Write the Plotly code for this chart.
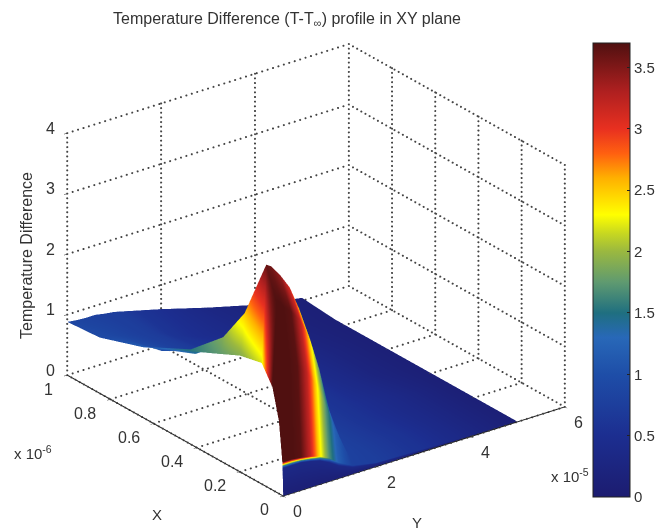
import plotly.graph_objects as go

# Axis values (X and Y in units of the printed multipliers)
x_ticks = [0, 0.2, 0.4, 0.6, 0.8, 1]
y_ticks = [0, 2, 4, 6]
z_ticks = [0, 1, 2, 3, 4]
cbar_ticks = [0, 0.5, 1, 1.5, 2, 2.5, 3, 3.5]

x_grid = [0, 0.003, 0.004, 0.02, 0.05, 0.1, 0.2, 0.3, 0.45, 0.65, 0.85, 1]
y_grid = [0, 0.1, 0.2, 0.4, 0.6, 0.8, 1.0, 1.2, 1.5, 2, 3, 4, 5]

# Temperature difference heights, one row per x_grid value
z_rows = [
    [0, 0, 0, 0, 0, 0, 0, 0, 0, 0, 0, 0, 0],
    [0.45, 0.45, 0.45, 0.45, 0.42, 0.38, 0.3, 0.2, 0.1, 0.04, 0.02, 0.01, 0],
    [0.55, 0.55, 0.55, 0.53, 0.5, 0.45, 0.37, 0.25, 0.13, 0.05, 0.03, 0.01, 0],
    [1.2, 2.15, 2.1, 2.0, 1.85, 1.6, 1.2, 0.75, 0.25, 0.1, 0.06, 0.02, 0],
    [1.7, 3.05, 3.0, 2.85, 2.65, 2.3, 1.75, 1.05, 0.35, 0.13, 0.08, 0.04, 0],
    [2.0, 3.6, 3.55, 3.35, 3.1, 2.7, 2.05, 1.25, 0.4, 0.15, 0.1, 0.05, 0],
    [1.92, 2.6, 2.55, 2.0, 1.85, 1.6, 1.3, 1.0, 0.6, 0.3, 0.18, 0.08, 0],
    [1.75, 2.0, 1.95, 1.75, 1.62, 1.57, 1.5, 1.3, 0.9, 0.45, 0.2, 0.1, 0],
    [1.5, 1.5, 1.4, 1.4, 1.35, 1.3, 1.25, 1.2, 1.1, 0.8, 0.25, 0.1, 0],
    [1.16, 1.14, 1.1, 1.0, 0.95, 0.9, 0.86, 0.82, 0.72, 0.65, 0.3, 0.1, 0],
    [0.92, 0.92, 0.9, 0.86, 0.82, 0.78, 0.74, 0.7, 0.6, 0.45, 0.27, 0.12, 0],
    [0.88, 0.87, 0.86, 0.85, 0.85, 0.82, 0.8, 0.76, 0.7, 0.6, 0.38, 0.18, 0.05],
]

# Colour values, one row per x_grid value
c_rows = [
    [0.1, 0.1, 0.1, 0.1, 0.1, 0.1, 0.1, 0.1, 0.1, 0.1, 0.1, 0.1, 0.05],
    [0.35, 0.35, 0.35, 0.35, 0.35, 0.35, 0.35, 0.35, 0.35, 0.35, 0.3, 0.2, 0.1],
    [3.7, 3.7, 3.7, 3.65, 3.2, 2.4, 1.7, 1.2, 0.8, 0.75, 0.55, 0.3, 0.1],
    [3.7, 3.7, 3.7, 3.65, 3.2, 2.4, 1.7, 1.2, 0.8, 0.75, 0.55, 0.3, 0.1],
    [3.7, 3.7, 3.7, 3.65, 3.2, 2.4, 1.7, 1.2, 0.8, 0.75, 0.55, 0.3, 0.1],
    [2.2, 3.6, 3.55, 3.4, 3.1, 2.5, 1.8, 1.2, 0.8, 0.75, 0.55, 0.3, 0.1],
    [1.92, 2.5, 2.45, 1.9, 1.4, 1.1, 0.9, 0.8, 0.75, 0.7, 0.5, 0.3, 0.1],
    [1.75, 1.9, 1.85, 1.4, 1.05, 0.85, 0.75, 0.7, 0.7, 0.65, 0.5, 0.3, 0.1],
    [1.5, 1.5, 1.4, 1.15, 0.95, 0.8, 0.72, 0.7, 0.65, 0.6, 0.45, 0.25, 0.1],
    [1.16, 1.14, 1.1, 0.98, 0.88, 0.8, 0.74, 0.68, 0.6, 0.55, 0.4, 0.25, 0.1],
    [0.92, 0.92, 0.9, 0.86, 0.82, 0.78, 0.74, 0.7, 0.6, 0.5, 0.35, 0.2, 0.1],
    [0.88, 0.87, 0.85, 0.82, 0.79, 0.76, 0.74, 0.7, 0.6, 0.5, 0.3, 0.2, 0.1],
]

CMAX = 3.7
color_stops = [
    (0, "#1c1c70"), (0.5, "#1c2e90"), (1.0, "#1e4ea8"), (1.3, "#2868b8"),
    (1.5, "#1f6f80"), (1.75, "#5f9a70"), (2.0, "#9ab840"), (2.15, "#c8d820"),
    (2.3, "#ffff00"), (2.6, "#ffb000"), (2.8, "#ff6010"), (3.0, "#e83020"),
    (3.3, "#b02020"), (3.7, "#501010"),
]
colorscale = [[v / CMAX, c] for v, c in color_stops]

xmax, ymax, zmax = x_ticks[-1], y_ticks[-1], z_ticks[-1]
FONT = "Liberation Sans"
INK = "#333333"
DOTS_PER_LINE = 52


def dotted(lines):
    xs, ys, zs = [], [], []
    for a, b in lines:
        for i in range(DOTS_PER_LINE + 1):
            t = i / DOTS_PER_LINE
            xs.append(a[0] + (b[0] - a[0]) * t)
            ys.append(a[1] + (b[1] - a[1]) * t)
            zs.append(a[2] + (b[2] - a[2]) * t)
    return xs, ys, zs


def segments(pairs):
    xs, ys, zs = [], [], []
    for a, b in pairs:
        xs += [a[0], b[0], None]
        ys += [a[1], b[1], None]
        zs += [a[2], b[2], None]
    return xs, ys, zs


grid = []
for x in x_ticks:
    grid.append(((x, 0, 0), (x, ymax, 0)))
    grid.append(((x, ymax, 0), (x, ymax, zmax)))
for y in y_ticks:
    grid.append(((0, y, 0), (xmax, y, 0)))
    grid.append(((xmax, y, 0), (xmax, y, zmax)))
for z in z_ticks:
    grid.append(((xmax, 0, z), (xmax, ymax, z)))
    grid.append(((xmax, ymax, z), (0, ymax, z)))
gx, gy, gz = dotted(grid)

ax, ay, az = segments([((0, 0, 0), (xmax, 0, 0)), ((0, 0, 0), (0, ymax, 0))])

fig = go.Figure()
fig.add_trace(go.Surface(
    x=x_grid, y=y_grid, z=[list(r) for r in zip(*z_rows)],
    surfacecolor=[list(r) for r in zip(*c_rows)],
    colorscale=colorscale, cmin=0, cmax=CMAX,
    lighting=dict(ambient=1, diffuse=0, specular=0, roughness=1, fresnel=0),
    hoverinfo="skip",
    colorbar=dict(
        x=595 / 659, xanchor="left", y=(531 - 497) / 531, yanchor="bottom",
        len=454 / 531, thickness=37, xpad=0, ypad=0, tickvals=cbar_ticks,
        ticktext=[f"{v:g}" for v in cbar_ticks], ticks="inside", ticklen=3,
        tickcolor="#222", outlinecolor="#222", outlinewidth=1,
        tickfont=dict(family=FONT, size=15, color=INK),
    ),
))
fig.add_trace(go.Scatter3d(x=gx, y=gy, z=gz, mode="markers", hoverinfo="skip", showlegend=False,
                           marker=dict(color="#444444", size=1.2, line=dict(width=0))))
fig.add_trace(go.Scatter3d(x=ax, y=ay, z=az, mode="lines", hoverinfo="skip", showlegend=False,
                           line=dict(color="#222222", width=2)))


def axis(vals):
    return dict(
        title=dict(text=""), tickvals=vals, showticklabels=False,
        range=[vals[0], vals[-1]], showgrid=False, showbackground=False, zeroline=False,
        showspikes=False, showline=False, ticks="outside", ticklen=4, tickcolor="#222",
    )


def tick_note(x, y, z, text, dx, dy):
    return dict(x=x, y=y, z=z, text=text, showarrow=False, xshift=dx, yshift=-dy,
                font=dict(family=FONT, size=16, color=INK))


notes = []
for v in x_ticks:
    notes.append(tick_note(v, 0, 0, f"{v:g}", -25 if 0 < v < 1 else -19, 14))
for v in y_ticks:
    notes.append(tick_note(0, v, 0, f"{v:g}", 14, 16))
for v in z_ticks:
    notes.append(tick_note(xmax, 0, v, f"{v:g}", -17, -5))

xa = axis(x_ticks)
xa["range"] = [xmax, 0]


def paper_note(text, px, py, size=15, **kw):
    return dict(text=text, x=px / 659, y=1 - py / 531, xref="paper", yref="paper",
                xanchor="center", yanchor="middle", showarrow=False,
                font=dict(family=FONT, size=size, color=INK), **kw)


fig.update_layout(
    width=659, height=531,
    paper_bgcolor="white",
    margin=dict(l=0, r=0, t=0, b=0),
    title=dict(text="Temperature Difference (T-T<sub>∞</sub>) profile in XY plane",
               x=287 / 659, xanchor="center", y=1 - 18 / 531, yanchor="middle",
               font=dict(family=FONT, size=16, color=INK)),
    scene=dict(
        domain=dict(x=[0.012, 0.95], y=[0, 0.983]),
        xaxis=xa,
        yaxis=axis(y_ticks),
        zaxis=axis(z_ticks),
        aspectmode="manual", aspectratio=dict(x=1.377, y=1.35, z=1.022),
        camera=dict(projection=dict(type="orthographic"),
                    up=dict(x=0, y=0, z=1), center=dict(x=0, y=0, z=0),
                    eye=dict(x=0.975, y=-0.733, z=0.566)),
        annotations=notes,
    ),
    annotations=[
        paper_note("x 10<sup>-6</sup>", 33, 452),
        paper_note("x 10<sup>-5</sup>", 572, 475),
        paper_note("X", 157, 514),
        paper_note("Y", 418, 522),
        paper_note("Temperature Difference", 26, 255, size=16, textangle=-90),
    ],
)
fig.write_html("out.html", config={"displayModeBar": False},
               post_script="document.body.style.margin='0';")
